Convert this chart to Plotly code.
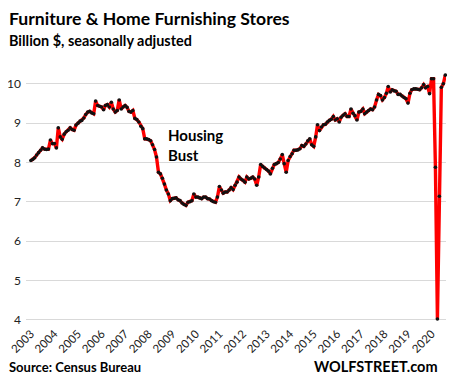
import pandas as pd
import plotly.graph_objects as go

# Monthly sales, billion $, seasonally adjusted (Jan 2003 - Aug 2020)
v2003 = [8.05, 8.08, 8.12, 8.19, 8.25, 8.31, 8.37, 8.34, 8.33, 8.34, 8.57, 8.48]
v2004 = [8.48, 8.37, 8.88, 8.65, 8.59, 8.72, 8.78, 8.82, 8.88, 8.84, 8.82, 8.95]
v2005 = [9.00, 9.05, 9.07, 9.13, 9.22, 9.28, 9.30, 9.26, 9.24, 9.56, 9.45, 9.43]
v2006 = [9.41, 9.34, 9.45, 9.47, 9.41, 9.53, 9.36, 9.28, 9.32, 9.59, 9.36, 9.41]
v2007 = [9.45, 9.40, 9.30, 9.28, 9.32, 9.12, 9.09, 9.03, 8.92, 8.86, 8.60, 8.60]
v2008 = [8.58, 8.55, 8.45, 8.33, 8.14, 7.75, 7.71, 7.60, 7.45, 7.30, 7.20, 7.03]
v2009 = [7.08, 7.09, 7.10, 7.05, 7.03, 6.97, 6.93, 6.91, 6.99, 7.00, 7.03, 7.20]
v2010 = [7.12, 7.12, 7.10, 7.08, 7.12, 7.12, 7.08, 7.07, 7.03, 7.00, 6.99, 7.12]
v2011 = [7.39, 7.30, 7.22, 7.25, 7.25, 7.30, 7.36, 7.31, 7.42, 7.50, 7.63, 7.58]
v2012 = [7.55, 7.50, 7.63, 7.58, 7.60, 7.63, 7.58, 7.42, 7.63, 7.95, 7.90, 7.86]
v2013 = [7.82, 7.78, 7.71, 7.85, 7.95, 7.97, 8.00, 8.09, 8.20, 7.97, 7.75, 8.05]
v2014 = [8.15, 8.22, 8.31, 8.31, 8.32, 8.35, 8.43, 8.41, 8.47, 8.55, 8.60, 8.45]
v2015 = [8.41, 8.65, 8.96, 8.81, 8.90, 8.96, 8.97, 9.03, 9.07, 9.10, 9.17, 9.08]
v2016 = [9.11, 9.03, 9.15, 9.20, 9.24, 9.17, 9.17, 9.36, 9.25, 9.19, 9.08, 9.28]
v2017 = [9.30, 9.36, 9.24, 9.28, 9.32, 9.36, 9.34, 9.41, 9.59, 9.73, 9.70, 9.59]
v2018 = [9.65, 9.76, 9.93, 9.79, 9.85, 9.82, 9.81, 9.73, 9.73, 9.69, 9.65, 9.62]
v2019 = [9.51, 9.76, 9.85, 9.87, 9.87, 9.86, 9.85, 9.90, 9.98, 9.90, 9.93, 9.75]
v2020 = [10.13, 10.13, 7.88, 4.02, 7.14, 9.91, 10.00, 10.22]

values = (v2003 + v2004 + v2005 + v2006 + v2007 + v2008 + v2009 + v2010 + v2011
          + v2012 + v2013 + v2014 + v2015 + v2016 + v2017 + v2018 + v2019 + v2020)
dates = pd.date_range("2003-01-01", periods=len(values), freq="MS")

years = list(range(2003, 2021))
tick_vals = [f"{y}-01-01" for y in years]
tick_text = [str(y) for y in years]
y_ticks = [4, 5, 6, 7, 8, 9, 10]

FONT = "Lato"

# The page body has an 8px margin, so the figure is laid out 8px smaller.
W, H = 447, 378
L, R, T, B = 18, 9, 63.5, 65
PW, PH = W - L - R, H - T - B


def px(x):
    return (x - L) / PW


def py(y):
    return 1 - (y - T) / PH


fig = go.Figure()
fig.add_trace(go.Scatter(
    x=dates, y=values, mode="lines+markers",
    line=dict(color="#ff0000", width=3.4),
    marker=dict(color="#111111", size=3.6),
    hoverinfo="skip", cliponaxis=False,
))

fig.update_layout(
    width=W, height=H,
    margin=dict(l=L, r=R, t=T, b=B),
    paper_bgcolor="white", plot_bgcolor="white",
    showlegend=False,
    font=dict(family=FONT, color="#222222"),
    xaxis=dict(
        range=["2002-10-18", "2020-08-12"],
        tickmode="array", tickvals=tick_vals, ticktext=tick_text,
        tickangle=-45, tickfont=dict(size=11.5, color="#222222", family=FONT),
        showgrid=False, zeroline=False, showline=False, ticks="",
        ticklabelstandoff=3, automargin=False, ticklabeloverflow="allow",
    ),
    yaxis=dict(
        range=[3.97, 10.3],
        tickmode="array", tickvals=y_ticks,
        tickfont=dict(size=12, color="#222222", family=FONT),
        showgrid=True, gridcolor="#d9d9d9", gridwidth=1,
        zeroline=False, showline=False, ticks="",
        ticklabelstandoff=4, automargin=False, ticklabeloverflow="allow",
    ),
    annotations=[
        dict(text="<b>Furniture &amp; Home Furnishing Stores</b>", xref="paper", yref="paper",
             x=px(-1), y=py(-3), xanchor="left", yanchor="top",
             showarrow=False, font=dict(size=17.6, color="#000000", family=FONT)),
        dict(text="<b>Billion $, seasonally adjusted</b>", xref="paper", yref="paper",
             x=px(-1), y=py(21), xanchor="left", yanchor="top",
             showarrow=False, font=dict(size=14.4, color="#000000", family=FONT)),
        dict(text="<b>Housing<br>Bust</b>", xref="x", yref="y",
             x="2008-09-20", y=8.97, xanchor="left", yanchor="top", align="left",
             showarrow=False, font=dict(size=15, color="#000000", family=FONT)),
        dict(text="<b>Source: Census Bureau</b>", xref="paper", yref="paper",
             x=px(-1), y=py(359), xanchor="left", yanchor="middle",
             showarrow=False, font=dict(size=13, color="#000000", family=FONT)),
        dict(text="<b>WOLFSTREET.com</b>", xref="paper", yref="paper",
             x=px(432), y=py(359), xanchor="right", yanchor="middle",
             showarrow=False, font=dict(size=14.5, color="#000000", family=FONT)),
    ],
)

fig.write_html("out.html")
